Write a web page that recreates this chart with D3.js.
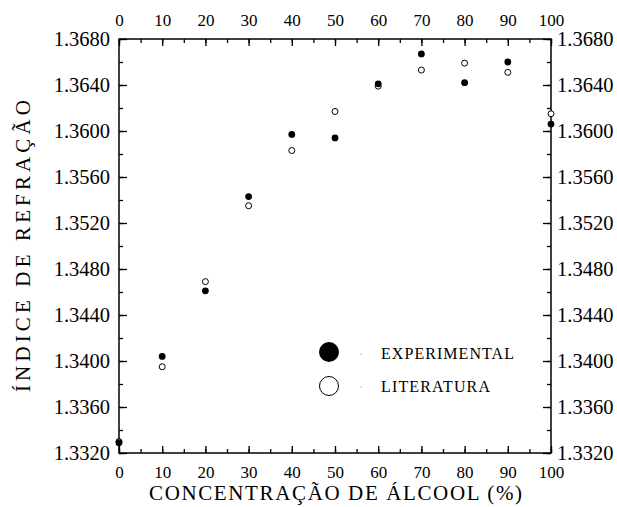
<!DOCTYPE html>
<html>
<head>
<meta charset="utf-8">
<script src="https://cdn.jsdelivr.net/npm/d3@7"></script>
<style>
body { margin: 0; background: #fff; }
</style>
</head>
<body>
<script>
// concentration of alcohol (%)
var conc = [0, 10, 20, 30, 40, 50, 60, 70, 80, 90, 100];
// refractive index measured
var experimental = [1.3329, 1.3404, 1.3461, 1.3543, 1.3597, 1.3594, 1.3641, 1.3667, 1.3642, 1.3660, 1.3606];
// refractive index from literature
var literatura = [1.3330, 1.3395, 1.3469, 1.3535, 1.3583, 1.3617, 1.3639, 1.3653, 1.3659, 1.3651, 1.3615];
var xTicks = [0, 10, 20, 30, 40, 50, 60, 70, 80, 90, 100];
var yTicks = [1.3320, 1.3360, 1.3400, 1.3440, 1.3480, 1.3520, 1.3560, 1.3600, 1.3640, 1.3680];

// letter-spacing makes the renderer drop the serif font, so spacing is done with textLength
var FONT = "'Liberation Serif'";
var width = 617, height = 507;
var margin = {top: 39, right: 66, bottom: 54, left: 119};

var svg = d3.select("body").append("svg")
    .attr("width", width)
    .attr("height", height);

var x = d3.scaleLinear().domain([0, 100]).range([margin.left, width - margin.right]);
var y = d3.scaleLinear().domain([1.3320, 1.3680]).range([height - margin.bottom, margin.top]);

var xMinor = d3.range(0, 101, 5);
var yMinor = d3.range(0, 19).map(function (i) { return 1.3320 + i * 0.002; });

// frame
svg.append("rect")
    .attr("x", x(0)).attr("y", y(1.3680))
    .attr("width", x(100) - x(0)).attr("height", y(1.3320) - y(1.3680))
    .attr("fill", "none").attr("stroke", "#000").attr("stroke-width", 1.5);

// ticks point inwards on every side
function styleAxis(g) {
    g.attr("font-family", null);
    g.select(".domain").remove();
    g.selectAll(".tick line").attr("stroke", "#000").attr("stroke-width", 1.3);
}

// minor ticks
svg.append("g").attr("transform", "translate(0," + y(1.3320) + ")")
    .call(d3.axisBottom(x).tickValues(xMinor).tickSize(-4).tickFormat(""))
    .call(styleAxis);
svg.append("g").attr("transform", "translate(0," + y(1.3680) + ")")
    .call(d3.axisTop(x).tickValues(xMinor).tickSize(-4).tickFormat(""))
    .call(styleAxis);
svg.append("g").attr("transform", "translate(" + x(0) + ",0)")
    .call(d3.axisLeft(y).tickValues(yMinor).tickSize(-4).tickFormat(""))
    .call(styleAxis);
svg.append("g").attr("transform", "translate(" + x(100) + ",0)")
    .call(d3.axisRight(y).tickValues(yMinor).tickSize(-4).tickFormat(""))
    .call(styleAxis);

// major ticks with labels
var fmtY = d3.format(".4f");
var bottomAxis = svg.append("g").attr("transform", "translate(0," + y(1.3320) + ")")
    .call(d3.axisBottom(x).tickValues(xTicks).tickSize(-7).tickPadding(13))
    .call(styleAxis);
var topAxis = svg.append("g").attr("transform", "translate(0," + y(1.3680) + ")")
    .call(d3.axisTop(x).tickValues(xTicks).tickSize(-7).tickPadding(13))
    .call(styleAxis);
var leftAxis = svg.append("g").attr("transform", "translate(" + x(0) + ",0)")
    .call(d3.axisLeft(y).tickValues(yTicks).tickSize(-8).tickPadding(9).tickFormat(fmtY))
    .call(styleAxis);
var rightAxis = svg.append("g").attr("transform", "translate(" + x(100) + ",0)")
    .call(d3.axisRight(y).tickValues(yTicks).tickSize(-8).tickPadding(6).tickFormat(fmtY))
    .call(styleAxis);

[bottomAxis, topAxis].forEach(function (g) {
    g.selectAll(".tick text").style("font-family", FONT).attr("font-size", 17).attr("fill", "#000");
});
[leftAxis, rightAxis].forEach(function (g) {
    g.selectAll(".tick text").style("font-family", FONT).attr("font-size", 20.5).attr("fill", "#000");
});

// literature points (open)
svg.append("g").selectAll("circle")
    .data(conc)
    .enter().append("circle")
    .attr("cx", function (d) { return x(d); })
    .attr("cy", function (d, i) { return y(literatura[i]); })
    .attr("r", 3)
    .attr("fill", "#fff")
    .attr("stroke", "#000")
    .attr("stroke-width", 1);

// experimental points (filled)
svg.append("g").selectAll("circle")
    .data(conc)
    .enter().append("circle")
    .attr("cx", function (d) { return x(d); })
    .attr("cy", function (d, i) { return y(experimental[i]); })
    .attr("r", 3.4)
    .attr("fill", "#000");

// legend
var legend = svg.append("g");
legend.append("circle").attr("cx", 329).attr("cy", 352).attr("r", 10).attr("fill", "#000");
legend.append("circle").attr("cx", 329).attr("cy", 386).attr("r", 9.5)
    .attr("fill", "#fff").attr("stroke", "#000").attr("stroke-width", 1);
legend.append("circle").attr("cx", 361).attr("cy", 354).attr("r", 0.6).attr("fill", "#666");
legend.append("circle").attr("cx", 361).attr("cy", 387).attr("r", 0.6).attr("fill", "#666");
legend.append("text").attr("x", 381).attr("y", 359)
    .style("font-family", FONT).attr("font-size", 16)
    .attr("textLength", 133).attr("lengthAdjust", "spacing")
    .text("EXPERIMENTAL");
legend.append("text").attr("x", 381).attr("y", 392)
    .style("font-family", FONT).attr("font-size", 16)
    .attr("textLength", 109).attr("lengthAdjust", "spacing")
    .text("LITERATURA");

// axis titles
svg.append("text")
    .attr("x", 149)
    .attr("y", 500)
    .style("font-family", FONT).attr("font-size", 21)
    .attr("textLength", 373).attr("lengthAdjust", "spacing")
    .text("CONCENTRAÇÃO DE ÁLCOOL (%)");

svg.append("text")
    .attr("transform", "translate(30,392) rotate(-90)")
    .style("font-family", FONT).attr("font-size", 21)
    .attr("textLength", 292).attr("lengthAdjust", "spacing")
    .text("ÍNDICE DE REFRAÇÃO");
</script>
</body>
</html>
